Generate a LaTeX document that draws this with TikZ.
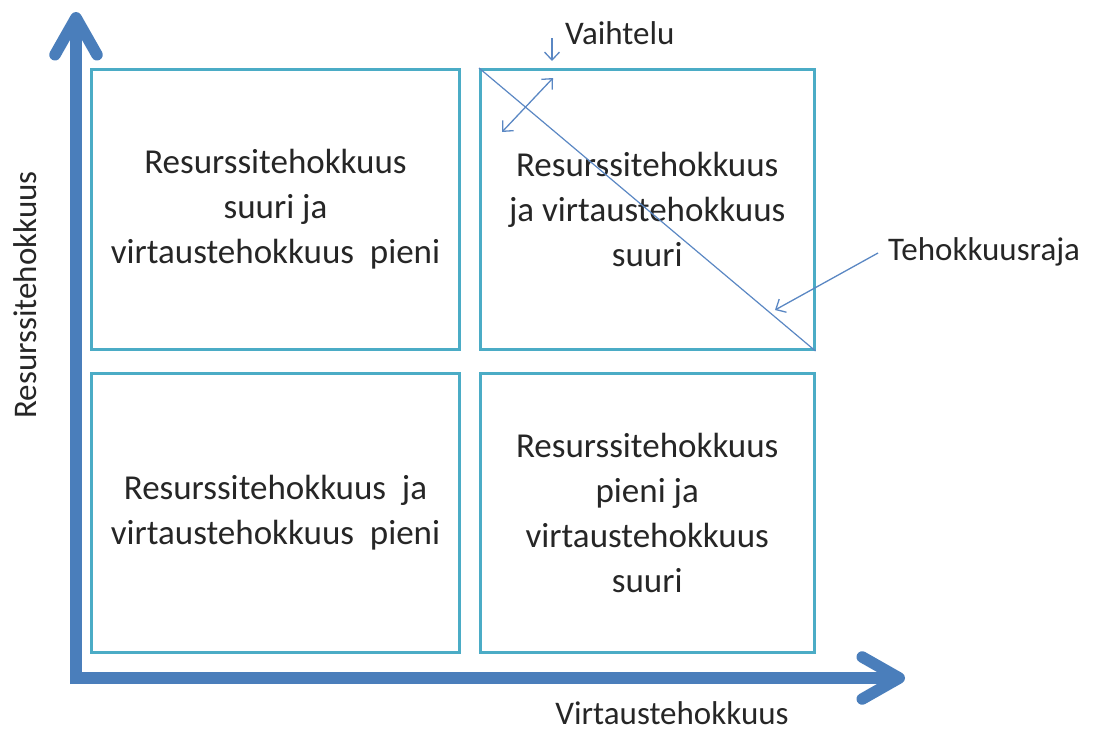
\documentclass[tikz,border=0pt]{standalone}
\usepackage{fontspec}
\setmainfont{Carlito}
\usetikzlibrary{arrows.meta}
\definecolor{axisblue}{RGB}{74,126,187}
\definecolor{boxaqua}{RGB}{75,172,198}
\definecolor{thinblue}{RGB}{90,135,195}
\begin{document}
\begin{tikzpicture}[x=1pt,y=-1pt,
  quad/.style={draw=boxaqua, line width=3pt, align=center, inner sep=0pt,
    font=\fontsize{35}{45}\selectfont, text=black!85},
  axis/.style={draw=axisblue, line width=11.5pt,
    -{Straight Barb[length=37pt, width=42pt, round]}},
  pointer/.style={draw=thinblue, line width=1.3pt,
    -{Straight Barb[length=8pt, width=15pt]}},
  twoway/.style={draw=thinblue, line width=1.3pt,
    {Straight Barb[length=8pt, width=15pt]}-{Straight Barb[length=8pt, width=15pt]}},
  lbl/.style={font=\fontsize{33}{40}\selectfont, text=black!85, inner sep=0pt}]
\useasboundingbox (0,0) rectangle (1095,731);

% axes
\coordinate (origin) at (76,684);
\coordinate (ytop) at (76,12);
\coordinate (xstart) at (70,678);
\coordinate (xend) at (905,678);
\draw[axis] (origin) -- (ytop);
\draw[axis] (xstart) -- (xend);

% the four quadrants
\node[quad, minimum width=368pt, minimum height=280pt] (hl) at (275.5,209.5)
  {Resurssitehokkuus\\suuri ja\\virtaustehokkuus\ \ pieni};
\node[quad, minimum width=333.5pt, minimum height=280pt] (hh) at (647.25,209.5)
  {Resurssitehokkuus\\ja virtaustehokkuus\\suuri};
\node[quad, minimum width=368pt, minimum height=279.5pt] (ll) at (275.5,512.75)
  {Resurssitehokkuus\ \ ja\\virtaustehokkuus\ \ pieni};
\node[quad, minimum width=333.5pt, minimum height=279.5pt] (lh) at (647.25,512.75)
  {Resurssitehokkuus\\pieni ja\\virtaustehokkuus\\suuri};

% efficiency frontier
\draw[draw=thinblue, line width=1.2pt] (hh.north west) -- (hh.south east);

% axis labels
\node[lbl, rotate=90] (ylab) at (25,295) {Resurssitehokkuus};
\node[lbl] (xlab) at (672,713) {Virtaustehokkuus};

% variation marker
\node[lbl, anchor=west] (vaiht) at (565,33) {Vaihtelu};
\coordinate (vtop) at (552,38);
\coordinate (vbot) at (552,61);
\draw[pointer] (vtop) -- (vbot);
\coordinate (dlow) at (502,132);
\coordinate (dup) at (553,78);
\draw[twoway] (dlow) -- (dup);

% frontier label
\node[lbl, anchor=west] (raja) at (888,252) {Tehokkuusraja};
\coordinate (rajapt) at (775,310);
\draw[pointer] (raja.west) ++(-10,1) -- (rajapt);
\end{tikzpicture}
\end{document}
